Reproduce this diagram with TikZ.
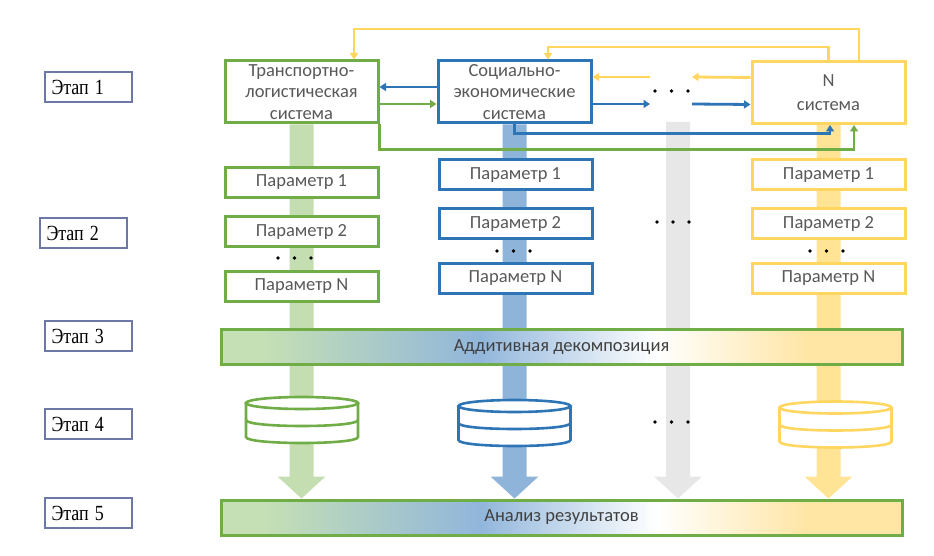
\documentclass[tikz,border=0pt]{standalone}
\usepackage{fontspec}
\usepackage{graphicx}
\setmainfont{Carlito}
\newfontfamily\serifru{Liberation Serif}
\usetikzlibrary{arrows.meta,calc}
\definecolor{cG}{RGB}{112,173,71}
\definecolor{cB}{RGB}{46,117,182}
\definecolor{cY}{RGB}{255,214,95}
\definecolor{bandG}{RGB}{196,222,178}
\definecolor{bandB}{RGB}{143,180,217}
\definecolor{bandN}{RGB}{231,231,231}
\definecolor{bandY}{RGB}{255,228,150}
\definecolor{barG}{RGB}{197,224,180}
\definecolor{barB}{RGB}{145,182,219}
\definecolor{barY}{RGB}{255,230,165}
\definecolor{txt}{RGB}{89,89,89}
\definecolor{txtD}{RGB}{64,64,64}
\definecolor{stageC}{RGB}{110,120,165}
\pgfdeclarehorizontalshading{bargrad}{100bp}{color(0bp)=(barG); color(28bp)=(barG); color(44bp)=(barB); color(57bp)=(white); color(68bp)=(barY); color(100bp)=(barY)}
\pgfdeclarelayer{bg}
\pgfsetlayers{bg,main}
\tikzset{
  sysbox/.style={draw=#1, line width=3pt, fill=white, minimum width=153pt, minimum height=62pt,
    inner sep=0pt, align=center, text=txt, font=\fontsize{18.5}{21.5}\selectfont},
  parbox/.style={draw=#1, line width=3pt, fill=white, minimum width=153pt, minimum height=30pt,
    inner sep=0pt, text=txt, font=\fontsize{18.5}{20}\selectfont},
  stagebox/.style={draw=stageC, line width=1.4pt, fill=white, minimum width=87pt, minimum height=30pt,
    inner sep=0pt, text width=74pt, align=left, font=\serifru\fontsize{18}{20}\selectfont},
  barbox/.style={draw=cG, line width=3pt, shading=bargrad, minimum width=681pt, minimum height=35pt,
    inner sep=0pt, text=txtD, font=\fontsize{18.5}{20}\selectfont},
  conn/.style={draw=#1, line width=2.8pt, -{Triangle[length=6.5pt,width=8pt]}},
  db/.pic={
    \draw[#1, line width=2.6pt, fill=white] (-56,0) -- (-56,34) .. controls (-56,42) and (56,42) .. (56,34) -- (56,0);
    \draw[#1, line width=2.6pt, fill=white] (0,0) ellipse [x radius=56, y radius=6];
    \draw[#1, line width=2.6pt] (-56,17) .. controls (-56,25) and (56,25) .. (56,17);
  }
}
\newcommand\stagetext[1]{\scalebox{1}[1.2]{#1}}
\newcommand\bandarrow[3]{%
  \fill[#1] ($(#2)+(-12,0)$) -- ($(#2)+(12,0)$) -- ($(#3)+(12,-22)$) -- ($(#3)+(24,-22)$) -- (#3)
    -- ($(#3)+(-24,-22)$) -- ($(#3)+(-12,-22)$) -- cycle;}
\newcommand\tridots[3]{%
  \fill (#1,#2) circle (1.9); \fill (#1+#3,#2) circle (1.9); \fill (#1+2*#3,#2) circle (1.9);}
\begin{document}
\begin{tikzpicture}[x=1pt,y=-1pt]
\useasboundingbox (0,0) rectangle (934,556);
% stage labels
\node[stagebox] (s1) at (88.5,87) {\stagetext{Этап 1}};
\node[stagebox] (s2) at (83.5,233) {\stagetext{Этап 2}};
\node[stagebox] (s3) at (88.5,336) {\stagetext{Этап 3}};
\node[stagebox] (s4) at (88.5,424) {\stagetext{Этап 4}};
\node[stagebox] (s5) at (88.5,513) {\stagetext{Этап 5}};
% systems
\node[sysbox=cG] (trans) at (301.5,92) {Транспортно-\\логистическая\\система};
\node[sysbox=cB] (soc) at (514.5,92) {Социально-\\экономические\\система};
\node[sysbox=cY] (nsys) at (828.5,92.5) {N\\[2pt]система};
% parameters
\node[parbox=cG] (g1) at (301.5,182.5) {Параметр 1};
\node[parbox=cG] (g2) at (301.5,231.5) {Параметр 2};
\node[parbox=cG] (gN) at (301.5,286) {Параметр N};
\node[parbox=cB] (b1) at (515.5,175) {Параметр 1};
\node[parbox=cB] (b2) at (515.5,223.5) {Параметр 2};
\node[parbox=cB] (bN) at (515.5,278) {Параметр N};
\node[parbox=cY] (y1) at (828.5,175) {Параметр 1};
\node[parbox=cY] (y2) at (828.5,223.5) {Параметр 2};
\node[parbox=cY] (yN) at (828.5,278) {Параметр N};
% bars
\node[barbox] (add) at (561.5,347) {Аддитивная декомпозиция};
\node[barbox] (anal) at (561.5,517.5) {Анализ результатов};
% bands
\coordinate (tG) at (trans.south |- anal.north);
\coordinate (tB) at (soc.south |- anal.north);
\coordinate (nS) at (678,122);
\coordinate (tN) at (nS |- anal.north);
\coordinate (tY) at (nsys.south |- anal.north);
\begin{pgfonlayer}{bg}
\bandarrow{bandG}{trans.south}{tG}
\bandarrow{bandB}{soc.south}{tB}
\bandarrow{bandN}{nS}{tN}
\bandarrow{bandY}{nsys.south}{tY}
\end{pgfonlayer}
% databases
\pic at (302,403) {db=cG};
\pic at (514.5,406) {db=cB};
\pic at (835.5,407.5) {db=cY};
% dots
\tridots{278}{258}{16.5}
\tridots{497}{251}{16.5}
\tridots{810}{251}{16.5}
\tridots{657}{222}{16}
\tridots{655}{422}{16.5}
\tridots{655}{91}{16.5}
% gap coordinates for the row of systems
\coordinate (gapL) at (650,92);
\coordinate (gapR) at (692,92);
% connectors
\draw[conn=cB] ([yshift=5pt]soc.west) -- ([yshift=5pt]trans.east);
\draw[conn=cG] ([yshift=-12pt]trans.east) -- ([yshift=-12pt]soc.west);
\draw[conn=cY] ([yshift=15pt]nsys.west) -- ([yshift=15pt]gapR);
\draw[conn=cY] ([yshift=15pt]gapL) -- ([yshift=15pt]soc.east);
\draw[conn=cB] ([yshift=-12pt]soc.east) -- ([yshift=-12pt]gapL);
\draw[conn=cB] ([yshift=-12pt]gapR) -- ([yshift=-12pt]nsys.west);
\draw[conn=cB] (soc.south) -- ++(0,9) -| ([xshift=1.5pt]nsys.south);
\draw[conn=cG] (trans.south east) -- ++(0,25) -| ([xshift=25.5pt]nsys.south);
\draw[conn=cY] ([xshift=30.5pt]nsys.north) -- ++(0,-31) -| ([xshift=52.5pt]trans.north);
\draw[conn=cY] (nsys.north) -- ++(0,-13) -| ([xshift=33.5pt]soc.north);
\end{tikzpicture}
\end{document}
